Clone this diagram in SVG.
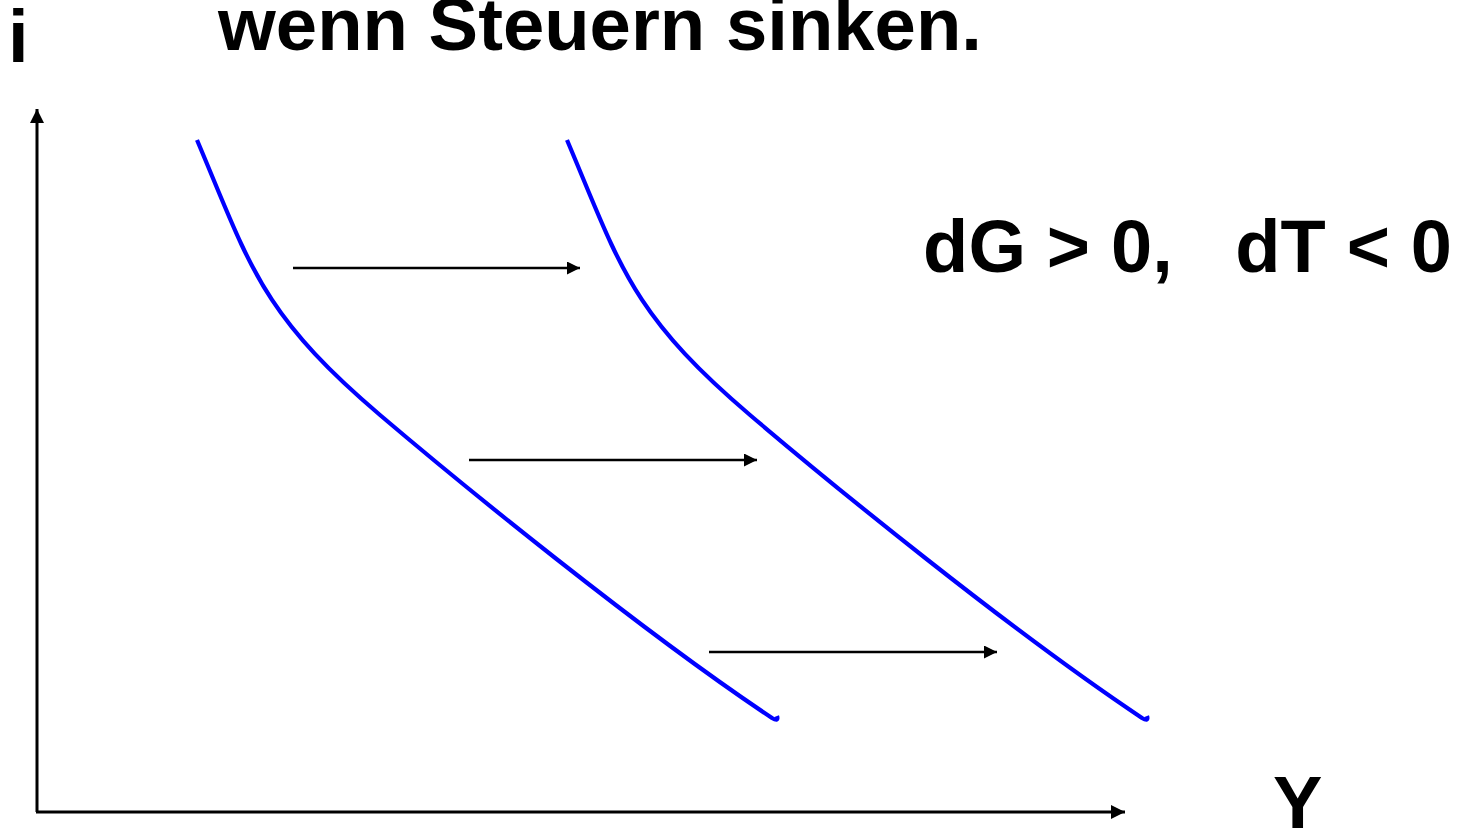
<svg xmlns="http://www.w3.org/2000/svg" width="1457" height="832" viewBox="0 0 1457 832">
<style>
.t{font-family:"Liberation Sans",Arial,sans-serif;font-weight:bold;font-size:74px;fill:#000}
.ax{stroke:#000;stroke-width:3;fill:none}
.sh{stroke:#000;stroke-width:2.6;fill:none}
.is{stroke:#0000FF;stroke-width:4.2;fill:none;stroke-linecap:butt;stroke-linejoin:round}
</style>
<defs>
<marker id="ah" viewBox="0 0 10 10" refX="10" refY="5" markerWidth="16" markerHeight="14" markerUnits="userSpaceOnUse" orient="auto"><path d="M0,0 L10,5 L0,10 Z" fill="#000"/></marker>
<marker id="ahs" viewBox="0 0 10 10" refX="10" refY="5" markerWidth="15" markerHeight="13" markerUnits="userSpaceOnUse" orient="auto"><path d="M0,0 L10,5 L0,10 Z" fill="#000"/></marker>
<path id="curve" d="M197,140 C250,265 260,313 380,415 C460,483 640,630 772,718 Q779,722 777,716"/>
</defs>
<rect width="1457" height="832" fill="#fff"/>
<g id="title"><text class="t" x="218" y="50" textLength="764" lengthAdjust="spacingAndGlyphs">wenn Steuern sinken.</text></g>
<g id="label-i"><text class="t" x="8" y="62">i</text></g>
<g id="label-Y"><text class="t" x="1273" y="828">Y</text></g>
<g id="label-d"><text class="t" x="923" y="272" textLength="529" lengthAdjust="spacing" xml:space="preserve">dG &gt; 0,   dT &lt; 0</text></g>
<g id="axes">
<path class="ax" d="M37,812 V109" marker-end="url(#ah)"/>
<path class="ax" d="M36,812 H1125" marker-end="url(#ah)"/>
</g>
<g id="IS1"><use href="#curve" class="is"/></g>
<g id="IS2"><use href="#curve" class="is" transform="translate(370,0)"/></g>
<g id="connectors">
<path class="sh" d="M293,268 H580" marker-end="url(#ahs)"/>
<path class="sh" d="M469,460 H757" marker-end="url(#ahs)"/>
<path class="sh" d="M709,652 H997" marker-end="url(#ahs)"/>
</g>
</svg>
